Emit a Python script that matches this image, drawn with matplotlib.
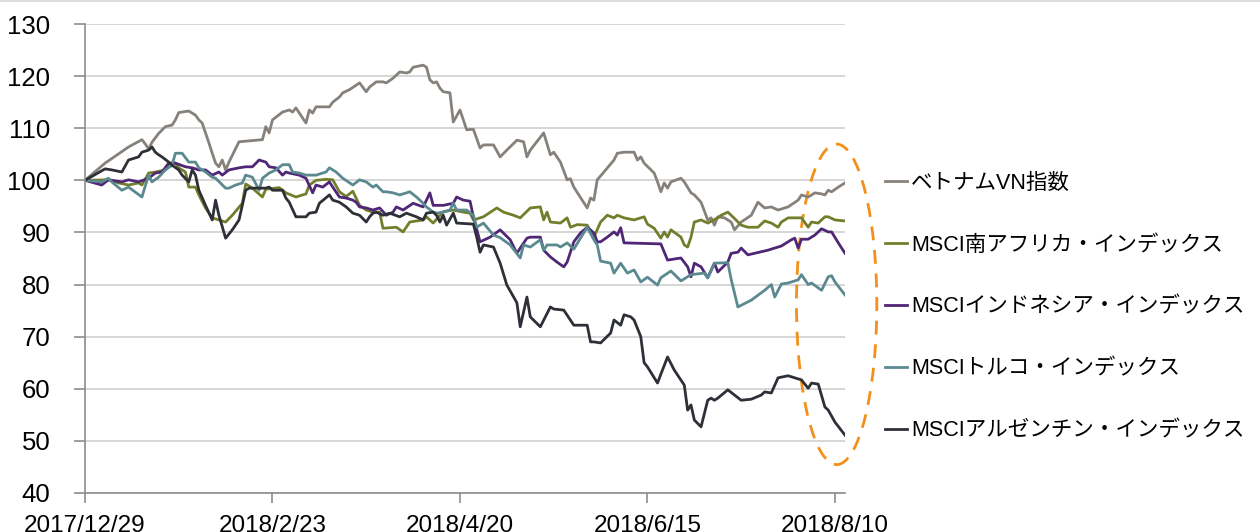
import matplotlib
matplotlib.use("Agg")
import matplotlib.pyplot as plt
import matplotlib.dates as mdates
from matplotlib.patches import Ellipse
from matplotlib.lines import Line2D
import pandas as pd

plt.rcParams["font.family"] = ["Liberation Sans", "Noto Sans CJK JP", "DejaVu Sans"]

START = pd.Timestamp("2017-12-29")

# series: (days since 2017/12/29, index value)
vn_days = [0, 6, 13, 17, 18, 19, 20, 22, 24, 26, 27, 28, 31, 33, 34, 35, 37, 38, 39, 40,
           41, 42, 43, 46, 53, 54, 55, 56, 59, 61, 62, 63, 66, 67, 68, 69, 73, 74, 76, 77,
           79, 82, 84, 85, 87, 89, 90, 92, 94, 96, 97, 98, 101, 102, 103, 104, 105, 106, 107, 109,
           110, 112, 113, 114, 116, 118, 119, 122, 124, 126, 129, 131, 132, 133, 137, 139, 140, 142, 144, 145,
           146, 150, 151, 152, 153, 155, 158, 159, 161, 164, 165, 166, 167, 170, 171, 172, 173, 174, 175, 178,
           179, 181, 182, 184, 186, 187, 188, 189, 191, 193, 194, 196, 199, 201, 203, 205, 207, 210, 213, 214,
           216, 218, 220, 221, 222, 223, 225, 227]
vn_vals = [100.0, 103.3, 106.4, 107.8, 107.0, 106.0, 107.3, 109.0, 110.3, 110.6, 111.6, 113.0, 113.3, 112.5, 111.6, 111.0, 107.2, 105.2, 103.3, 102.6,
           103.9, 102.0, 103.5, 107.4, 107.8, 110.3, 109.1, 111.6, 113.1, 113.5, 113.1, 113.9, 111.0, 113.5, 112.9, 114.1, 114.1, 115.0, 116.0, 116.8,
           117.4, 118.7, 117.0, 117.9, 118.9, 118.9, 118.7, 119.6, 120.8, 120.6, 120.8, 121.7, 122.1, 121.7, 119.3, 118.7, 118.9, 117.7, 117.0, 116.8,
           111.2, 113.5, 111.6, 109.7, 109.8, 106.2, 106.8, 106.8, 104.5, 105.8, 107.7, 107.4, 104.5, 105.8, 109.1, 104.9, 105.4, 103.5, 100.1, 100.3,
           98.7, 94.7, 96.6, 96.2, 100.1, 101.6, 103.9, 105.2, 105.4, 105.4, 103.9, 104.5, 103.3, 101.4, 99.7, 97.8, 99.5, 98.5, 99.7, 100.4,
           99.7, 97.6, 97.2, 95.8, 92.4, 92.8, 91.4, 93.0, 92.8, 92.0, 90.5, 92.0, 93.3, 95.8, 94.7, 94.9, 94.3, 94.9, 96.2, 97.2,
           96.8, 97.6, 97.4, 97.2, 98.1, 97.8, 98.7, 99.5]

za_days = [0, 7, 10, 13, 16, 17, 19, 21, 24, 25, 27, 28, 30, 31, 33, 34, 36, 38, 42, 44,
           47, 48, 50, 53, 54, 58, 60, 63, 66, 67, 69, 72, 74, 76, 78, 80, 82, 84, 86, 88,
           89, 93, 95, 97, 101, 102, 104, 107, 110, 113, 115, 116, 117, 119, 123, 125, 128, 130, 133, 136,
           137, 138, 139, 142, 144, 145, 147, 150, 152, 154, 156, 158, 159, 161, 164, 167, 168, 170, 172, 173,
           174, 175, 178, 179, 180, 181, 182, 184, 186, 189, 190, 192, 193, 196, 198, 201, 203, 205, 207, 208,
           210, 214, 216, 217, 219, 221, 222, 224, 227]
za_vals = [100.0, 100.1, 99.5, 99.1, 99.5, 99.1, 101.4, 101.6, 102.0, 103.3, 103.3, 102.4, 101.6, 98.7, 98.7, 97.2, 94.7, 92.8, 92.0, 93.3,
           95.6, 99.3, 98.5, 96.8, 98.3, 98.6, 97.6, 96.8, 97.4, 99.1, 100.0, 100.2, 100.1, 97.8, 96.9, 97.9, 95.2, 94.3, 93.9, 93.9,
           90.8, 91.0, 90.1, 92.0, 92.4, 93.0, 91.8, 94.0, 94.3, 93.9, 93.7, 92.4, 92.6, 93.0, 94.7, 93.9, 93.3, 92.8, 94.7, 94.9,
           92.4, 93.9, 92.0, 91.8, 92.8, 91.0, 91.5, 91.4, 89.1, 92.0, 93.3, 92.8, 93.3, 92.8, 92.4, 93.0, 91.6, 90.8, 88.9, 90.1,
           89.1, 90.5, 89.1, 87.6, 87.2, 89.1, 92.0, 92.4, 91.8, 92.8, 93.3, 93.9, 93.3, 91.4, 91.0, 91.0, 92.2, 91.8, 91.0, 92.0,
           92.8, 92.8, 91.0, 92.0, 91.8, 93.0, 93.0, 92.4, 92.2]

id_days = [0, 5, 7, 11, 13, 16, 19, 21, 23, 25, 27, 30, 32, 34, 36, 38, 40, 41, 43, 46,
           48, 50, 52, 54, 55, 57, 59, 60, 61, 64, 66, 68, 69, 71, 73, 74, 76, 78, 80, 81,
           82, 84, 86, 88, 90, 92, 93, 95, 98, 101, 102, 103, 104, 107, 110, 111, 113, 115, 116, 118,
           121, 124, 127, 129, 130, 132, 133, 136, 137, 139, 141, 143, 144, 146, 148, 150, 152, 153, 154, 156,
           158, 159, 160, 161, 172, 174, 178, 180, 181, 182, 184, 186, 188, 189, 192, 193, 195, 196, 198, 200,
           204, 207, 208, 211, 212, 213, 214, 216, 218, 220, 222, 223, 225, 227]
id_vals = [100.0, 99.1, 100.1, 99.7, 100.1, 99.7, 100.4, 101.4, 101.6, 103.3, 103.3, 102.6, 102.4, 102.0, 102.0, 101.0, 101.6, 101.0, 102.0, 102.4,
           102.6, 102.6, 103.9, 103.5, 102.6, 102.4, 101.0, 101.6, 101.4, 101.0, 100.4, 97.6, 99.1, 98.7, 99.7, 98.7, 96.8, 96.6, 96.2, 95.8,
           94.9, 94.7, 94.3, 94.7, 93.3, 93.9, 94.9, 94.3, 95.6, 94.9, 96.2, 97.6, 95.2, 95.2, 95.6, 96.8, 96.2, 96.0, 93.0, 88.2,
           89.1, 90.5, 88.6, 86.0, 87.0, 88.9, 89.1, 89.1, 86.6, 85.3, 84.3, 83.4, 84.3, 88.2, 89.9, 91.0, 89.9, 88.2, 88.2, 89.1,
           90.1, 89.5, 90.9, 88.0, 87.8, 84.7, 85.1, 83.4, 81.5, 84.1, 83.4, 81.3, 84.1, 82.4, 84.3, 86.0, 86.2, 87.0, 85.7, 86.0,
           86.6, 87.2, 87.4, 88.6, 88.9, 87.0, 88.7, 88.7, 89.5, 90.7, 90.1, 90.1, 88.0, 86.0]

tr_days = [0, 5, 7, 8, 11, 13, 17, 19, 20, 22, 24, 26, 27, 29, 31, 33, 34, 36, 38, 39,
           42, 43, 45, 47, 48, 50, 52, 53, 55, 57, 59, 61, 62, 64, 66, 69, 72, 73, 75, 77,
           80, 82, 84, 86, 87, 89, 90, 92, 94, 96, 97, 99, 101, 102, 104, 105, 107, 109, 110, 111,
           114, 116, 117, 119, 122, 124, 127, 130, 131, 133, 136, 137, 138, 141, 142, 144, 146, 150, 152, 153,
           154, 157, 158, 160, 162, 164, 166, 168, 171, 172, 175, 178, 181, 185, 186, 188, 192, 193, 195, 199,
           203, 205, 206, 208, 210, 213, 214, 216, 217, 220, 222, 223, 224, 227]
tr_vals = [100.0, 99.7, 100.4, 99.7, 98.1, 98.7, 96.8, 101.0, 99.7, 100.6, 102.0, 102.9, 105.2, 105.2, 103.5, 103.5, 102.4, 101.6, 100.6, 100.4,
           98.5, 98.5, 99.1, 99.5, 101.0, 100.6, 98.1, 100.4, 101.4, 102.0, 103.0, 103.0, 101.6, 101.4, 101.0, 101.0, 101.6, 102.4, 101.6, 100.4,
           99.1, 100.1, 99.7, 98.7, 99.1, 97.8, 97.8, 97.6, 97.2, 97.6, 97.8, 96.8, 95.6, 94.9, 93.9, 93.7, 93.9, 94.3, 95.6, 94.3,
           94.3, 93.3, 91.0, 91.8, 89.5, 89.0, 87.6, 85.1, 87.6, 87.2, 88.6, 86.6, 87.6, 87.6, 87.2, 88.0, 86.8, 91.0, 88.6, 87.6,
           84.5, 84.1, 82.2, 84.1, 82.2, 82.8, 80.5, 81.4, 79.9, 81.3, 82.6, 80.7, 81.9, 82.2, 81.3, 84.1, 84.2, 81.0, 75.7, 77.0,
           78.9, 80.0, 77.6, 80.1, 80.3, 80.9, 81.9, 80.0, 80.3, 78.9, 81.5, 81.7, 80.5, 78.0]

ar_days = [0, 6, 8, 11, 13, 16, 17, 19, 20, 21, 22, 23, 25, 26, 28, 29, 31, 32, 33, 34,
           36, 38, 39, 40, 42, 44, 46, 48, 49, 54, 55, 56, 59, 60, 61, 63, 66, 67, 69, 70,
           73, 74, 76, 78, 80, 82, 84, 85, 86, 87, 89, 91, 94, 96, 99, 101, 102, 104, 105, 106,
           107, 108, 110, 111, 116, 117, 118, 119, 122, 124, 126, 129, 130, 132, 133, 136, 139, 140, 143, 146,
           150, 151, 152, 154, 157, 158, 160, 161, 163, 164, 166, 167, 168, 171, 172, 174, 176, 179, 180, 181,
           182, 184, 186, 187, 188, 189, 192, 196, 199, 202, 203, 205, 207, 210, 214, 216, 217, 219, 221, 222,
           224, 227]
ar_vals = [100.0, 102.2, 102.0, 101.6, 103.9, 104.5, 105.4, 105.8, 106.4, 105.4, 104.9, 104.5, 103.5, 102.9, 102.0, 101.0, 99.7, 102.0, 101.0, 98.1,
           95.2, 92.4, 96.2, 93.3, 88.9, 90.5, 92.4, 98.1, 98.5, 98.5, 98.7, 98.1, 98.1, 96.6, 95.8, 93.0, 93.0, 93.7, 93.9, 95.6,
           97.2, 96.2, 95.8, 94.9, 93.7, 93.3, 92.0, 93.0, 93.7, 93.9, 93.3, 93.7, 93.0, 93.7, 93.0, 92.4, 93.7, 93.9, 93.3, 92.0,
           93.3, 91.4, 93.7, 91.8, 91.6, 89.1, 86.2, 87.6, 87.2, 84.1, 79.9, 76.5, 71.9, 77.6, 73.8, 71.9, 75.7, 75.3, 75.1, 72.2,
           72.2, 69.0, 69.0, 68.8, 70.7, 73.2, 72.2, 74.2, 73.8, 73.2, 70.0, 65.0, 64.2, 61.1, 62.8, 66.1, 63.6, 60.7, 55.9, 56.9,
           54.0, 52.7, 57.8, 58.2, 57.8, 58.2, 59.8, 57.8, 58.0, 58.8, 59.4, 59.2, 62.1, 62.5, 61.7, 60.1, 61.1, 60.9, 56.5, 55.9,
           53.6, 51.1]

labels = ["ベトナムVN指数", "MSCI南アフリカ・インデックス", "MSCIインドネシア・インデックス",
          "MSCIトルコ・インデックス", "MSCIアルゼンチン・インデックス"]
colors = ["#87817b", "#737e2c", "#502676", "#5b8990", "#2e3038"]
series = [(vn_days, vn_vals), (za_days, za_vals), (id_days, id_vals),
          (tr_days, tr_vals), (ar_days, ar_vals)]

tick_days = [0, 56, 112, 168, 224]
y_ticks = list(range(40, 131, 10))


def to_dates(days):
    return START + pd.to_timedelta(days, unit="D")


fig = plt.figure(figsize=(12.6, 5.32), dpi=100)
ax = fig.add_axes([85 / 1260, 39 / 532, 760 / 1260, 469 / 532])

for (d, v), lab, col in zip(series, labels, colors):
    ax.plot(to_dates(d), v, color=col, lw=2.0, label=lab, solid_joinstyle="round")

ax.set_xlim(START, START + pd.Timedelta(days=227))
ax.set_ylim(40, 130)
ax.set_yticks(y_ticks)
ax.yaxis.grid(True, color="#d0d0d0", lw=1.2)
ax.set_axisbelow(True)

ticks = to_dates(tick_days)
ax.set_xticks(ticks)
ax.set_xticklabels([f"{t.year}/{t.month}/{t.day}" for t in ticks])

for side in ["top", "right"]:
    ax.spines[side].set_visible(False)
for side in ["left", "bottom"]:
    ax.spines[side].set_color("#8c8c8c")
    ax.spines[side].set_linewidth(1.2)
ax.tick_params(axis="y", length=8, width=1.2, color="#8c8c8c", pad=17, labelsize=18.5)
ax.tick_params(axis="x", length=7, width=1.2, color="#8c8c8c", pad=9, labelsize=17.5)

# dashed orange ellipse around the latest weeks
ell = Ellipse((mdates.date2num(START + pd.Timedelta(days=224.5)), 76.2), width=24, height=61.5,
              fill=False, edgecolor="#f39019", lw=2.0, ls=(0, (5, 3.5)), clip_on=False)
ax.add_patch(ell)

ax.legend(loc="center left", bbox_to_anchor=(885 / 1260, 1 - 307 / 532), bbox_transform=fig.transFigure,
          frameon=False, fontsize=15.5, handlelength=1.0, handletextpad=0.2, labelspacing=1.9,
          borderpad=0, borderaxespad=0)

fig.add_artist(Line2D([0, 1], [0.999, 0.999], transform=fig.transFigure, color="#dddddd", lw=1.5))

fig.savefig("out.png", dpi=100)
